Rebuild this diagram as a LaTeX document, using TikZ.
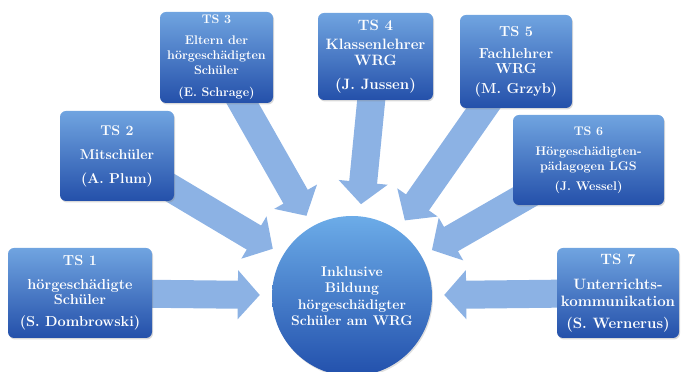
\documentclass[tikz,border=0pt]{standalone}
\usetikzlibrary{arrows.meta,shadows,backgrounds}

\definecolor{boxtop}{RGB}{112,164,224}
\definecolor{boxbot}{RGB}{36,80,170}
\definecolor{hubtop}{RGB}{108,172,232}
\definecolor{hubbot}{RGB}{34,80,172}
\definecolor{feedblue}{RGB}{140,178,228}

\begin{document}
\begin{tikzpicture}[x=1pt,y=1pt,
    tsbox/.style={rounded corners=6pt, top color=boxtop, bottom color=boxbot,
      text=white, align=center, inner sep=2pt,
      drop shadow={opacity=0.3, shadow xshift=1pt, shadow yshift=-1.5pt}},
    feed/.style={line width=28pt, color=feedblue,
      -{Triangle[width=48pt,length=22pt]}, shorten >=12pt}]
  \useasboundingbox (0,0) rectangle (681,372);

  % --- centre circle ---
  \node[circle, minimum size=160pt, inner sep=0pt, top color=hubtop, bottom color=hubbot,
        text=white, align=center, font=\fontsize{14}{16.5}\selectfont\bfseries,
        drop shadow={opacity=0.25, shadow xshift=1pt, shadow yshift=-1.5pt}]
    (hub) at (352,76) {Inklusive\\Bildung\\hörgeschädigter\\Schüler am WRG};

  % --- sub-project boxes (TS 1 .. TS 7) ---
  \node[tsbox, minimum width=144pt, minimum height=90pt,
        font=\fontsize{14.5}{15.5}\selectfont\bfseries]
    (ts1) at (80,79) {TS 1\\[8pt]hörgeschädigte\\Schüler\\[6pt](S. Dombrowski)};
  \node[tsbox, minimum width=114pt, minimum height=90pt,
        font=\fontsize{14.2}{16}\selectfont\bfseries]
    (ts2) at (117,216) {TS 2\\[8pt]Mitschüler\\[8pt](A. Plum)};
  \node[tsbox, minimum width=113pt, minimum height=91pt,
        font=\fontsize{12.5}{15}\selectfont\bfseries]
    (ts3) at (216.5,314.5) {TS 3\\[6pt]Eltern der\\hörgeschädigten\\Schüler\\[7pt](E. Schrage)};
  \node[tsbox, minimum width=115pt, minimum height=87pt,
        font=\fontsize{15}{16}\selectfont\bfseries]
    (ts4) at (375.5,315.5) {TS 4\\[3pt]Klassenlehrer\\WRG\\[8pt](J. Jussen)};
  \node[tsbox, minimum width=112pt, minimum height=93pt,
        font=\fontsize{14.5}{15}\selectfont\bfseries]
    (ts5) at (516,310.5) {TS 5\\[7pt]Fachlehrer\\WRG\\[5pt](M. Grzyb)};
  \node[tsbox, minimum width=151pt, minimum height=90pt,
        font=\fontsize{12.5}{15}\selectfont\bfseries]
    (ts6) at (588.5,212) {TS 6\\[5pt]Hörgeschädigten-\\pädagogen LGS\\[5pt](J. Wessel)};
  \node[tsbox, minimum width=122pt, minimum height=90pt,
        font=\fontsize{15}{17}\selectfont\bfseries]
    (ts7) at (618,79) {TS 7\\[8pt]Unterrichts-\\kommunikation\\[5pt](S. Wernerus)};

  % --- block arrows into the circle (behind the boxes) ---
  \begin{scope}[on background layer]
    \foreach \ts in {ts1,ts2,ts3,ts4,ts5,ts6,ts7}
      \draw[feed] (\ts.center) -- (hub);
  \end{scope}
\end{tikzpicture}
\end{document}
